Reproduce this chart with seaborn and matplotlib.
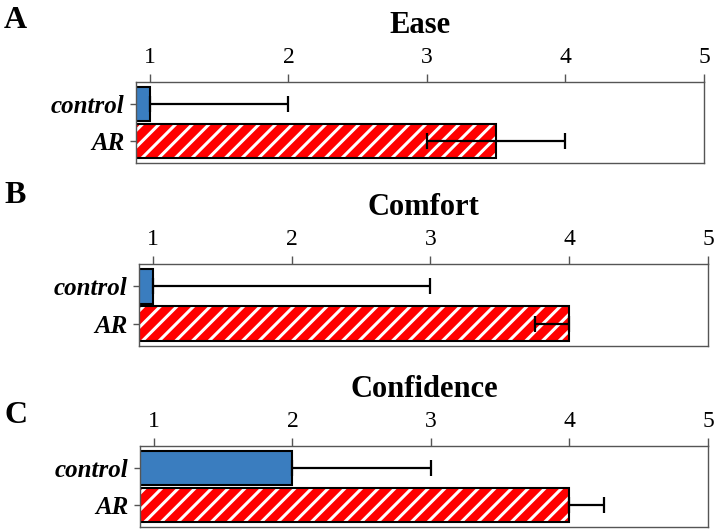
import matplotlib
matplotlib.use('Agg')
import matplotlib.pyplot as plt
from matplotlib.patches import Rectangle
import seaborn as sns
import pandas as pd

# medians with lower / upper bounds per group
groups = ['control', 'AR']
panel_titles = ['Ease', 'Comfort', 'Confidence']
panel_letters = ['A', 'B', 'C']

ease_mid = [1.0, 3.5]
ease_lo = [1.0, 3.0]
ease_hi = [2.0, 4.0]

comfort_mid = [1.0, 4.0]
comfort_lo = [1.0, 3.75]
comfort_hi = [3.0, 4.0]

confidence_mid = [2.0, 4.0]
confidence_lo = [2.0, 4.0]
confidence_hi = [3.0, 4.25]

x_ticks = [1, 2, 3, 4, 5]

sns.set_style('white')
plt.rcParams['font.family'] = ['Liberation Serif', 'DejaVu Serif']
plt.rcParams['hatch.linewidth'] = 2.2
plt.rcParams['text.color'] = 'black'
plt.rcParams['xtick.labelcolor'] = 'black'
plt.rcParams['ytick.labelcolor'] = 'black'

colors = {'control': '#3a7dbf', 'AR': '#ff0000'}

fig = plt.figure(figsize=(7.14, 5.32), dpi=100)

# axes rectangles in pixels (left, top, right, bottom)
boxes = [(136, 82, 704, 163), (139, 264, 708, 346), (140, 446, 708, 527)]
letter_y = [28, 203, 423]

panels = [(ease_mid, ease_lo, ease_hi),
          (comfort_mid, comfort_lo, comfort_hi),
          (confidence_mid, confidence_lo, confidence_hi)]

W, H = 714.0, 532.0
for i, (mid, lo, hi) in enumerate(panels):
	l, t, r, b = boxes[i]
	ax = fig.add_axes([l / W, 1 - b / H, (r - l) / W, (b - t) / H])
	df = pd.DataFrame({'group': groups, 'value': mid})
	sns.barplot(data=df, x='value', y='group', hue='group', palette=colors,
		orient='h', width=0.93, legend=False, ax=ax, edgecolor='black',
		linewidth=1.5, saturation=1)

	# AR bar: white hatch on red plus black outline
	for p, g in zip(ax.patches, groups):
		if g == 'AR':
			p.set_edgecolor('white')
			p.set_hatch('//')
			p.set_linewidth(0)
			ax.add_patch(Rectangle(p.get_xy(), p.get_width(), p.get_height(),
				fill=False, edgecolor='black', linewidth=1.5, zorder=p.get_zorder() + 0.1))

	xerr = [[m - a for m, a in zip(mid, lo)], [c - m for m, c in zip(mid, hi)]]
	ax.errorbar(mid, [0, 1], xerr=xerr, fmt='none', ecolor='black',
		elinewidth=1.6, capsize=5.5, capthick=1.6, zorder=5)

	ax.set_xlim(0.9, 5.0)
	ax.set_ylim(1.6, -0.6)
	ax.xaxis.tick_top()
	ax.set_xticks(x_ticks)
	ax.set_xlabel('')
	ax.set_ylabel('')
	ax.tick_params(axis='x', which='both', top=True, bottom=False, direction='out',
		length=6, width=1, pad=4, labelsize=17, color='#555555', labelcolor='black')
	ax.tick_params(axis='y', left=True, direction='out', length=4.5, width=1,
		pad=4, color='#555555', labelcolor='black')
	for lab in ax.get_yticklabels():
		lab.set_fontsize(18)
		lab.set_fontweight('bold')
		lab.set_fontstyle('italic')
	for s in ax.spines.values():
		s.set_color('#555555')
		s.set_linewidth(1)

	ax.annotate(panel_titles[i], xy=(0.5, 1), xycoords='axes fraction',
		xytext=(0, 35), textcoords='offset points', ha='center', va='baseline',
		fontsize=22, fontweight='bold', color='black')
	fig.text(4 / W, 1 - letter_y[i] / H, panel_letters[i], fontsize=23,
		fontweight='bold', ha='left', va='baseline', color='black')

fig.savefig('out.png', dpi=100)
